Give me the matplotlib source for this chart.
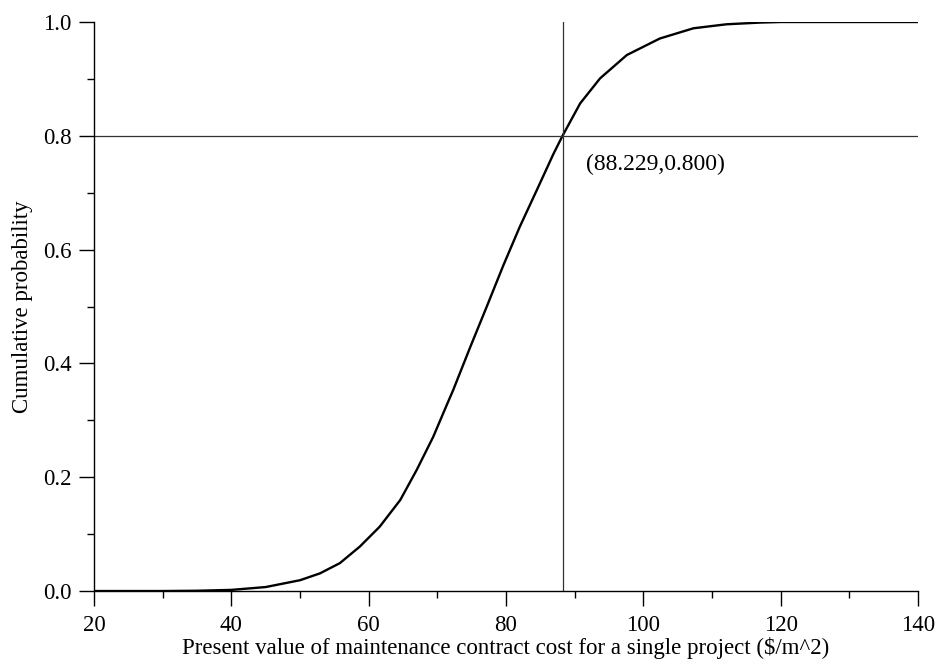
import matplotlib
matplotlib.use("Agg")
import matplotlib.pyplot as plt
from matplotlib.ticker import MultipleLocator

# cumulative curve
cost = [20, 30, 35, 40, 45, 50.0, 52.9, 55.8, 58.7, 61.6, 64.6, 67.0, 69.4,
        71.3, 72.3, 74.8, 77.2, 79.6, 82.0, 84.5, 86.9, 88.229, 90.8, 93.7,
        97.6, 102.4, 107.3, 112.1, 117.0, 120, 130, 140]
prob = [0.0, 0.0, 0.0005, 0.002, 0.007, 0.019, 0.031, 0.049, 0.078, 0.113,
        0.160, 0.213, 0.271, 0.325, 0.353, 0.429, 0.500, 0.572, 0.640, 0.705,
        0.768, 0.800, 0.857, 0.901, 0.942, 0.971, 0.989, 0.996, 0.999, 1.0,
        1.0, 1.0]

mark_x = 88.229
mark_y = 0.800
mark_label = "(88.229,0.800)"

plt.rcParams['font.family'] = ['Liberation Serif', 'DejaVu Serif']

fig = plt.figure(figsize=(9.43, 6.67), dpi=100)
ax = fig.add_axes([0.0997, 0.1139, 0.8738, 0.8531])

ax.plot(cost, prob, color='black', lw=1.7, solid_joinstyle='round')
ax.axhline(mark_y, color='#333333', lw=0.9)
ax.plot([mark_x, mark_x], [0, 1.0], color='#333333', lw=0.9)
ax.text(mark_x + 3.4, mark_y - 0.05, mark_label, fontsize=17, va='center', ha='left')

ax.set_xlim(20, 140)
ax.set_ylim(0, 1.0)
ax.xaxis.set_major_locator(MultipleLocator(20))
ax.xaxis.set_minor_locator(MultipleLocator(10))
ax.yaxis.set_major_locator(MultipleLocator(0.2))
ax.yaxis.set_minor_locator(MultipleLocator(0.1))
ax.yaxis.set_major_formatter(plt.FormatStrFormatter('%.1f'))

for side in ['top', 'right']:
    ax.spines[side].set_visible(False)
for side in ['left', 'bottom']:
    ax.spines[side].set_linewidth(1.0)

ax.tick_params(which='major', direction='out', length=11, width=1.0, labelsize=16.5)
ax.tick_params(which='minor', direction='out', length=5, width=1.0)
ax.tick_params(axis='x', which='major', pad=6)
ax.tick_params(axis='y', which='major', pad=5)

ax.set_xlabel('Present value of maintenance contract cost for a single project ($/m^2)',
              fontsize=16.5, labelpad=1)
ax.set_ylabel('Cumulative probability', fontsize=16.5, labelpad=7)

fig.savefig('out.png', dpi=100)
